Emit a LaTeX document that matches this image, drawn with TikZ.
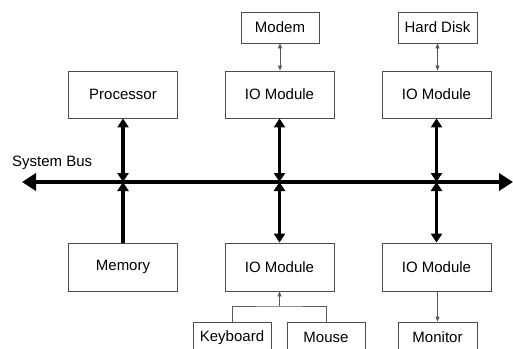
\documentclass[tikz,border=0pt]{standalone}
\usepackage{fontspec}
\setmainfont{Liberation Sans}
\usetikzlibrary{arrows.meta}
\begin{document}
\begin{tikzpicture}[x=1pt,y=-1pt,
  box/.style={draw=black!70,line width=0.8pt,minimum width=109pt,minimum height=47pt,inner sep=0pt,font=\fontsize{15}{18}\selectfont},
  dev/.style={draw=black!70,line width=0.8pt,minimum width=78pt,minimum height=31pt,inner sep=0pt,font=\fontsize{15}{18}\selectfont},
  busarrow/.style={line width=3.2pt,{Triangle[length=9pt,width=11pt]}-{Triangle[length=9pt,width=11pt]}},
  thin/.style={draw=black!65,line width=0.8pt},
  thinarrow/.style={thin,-{Triangle[length=5pt,width=4pt]}}]
\path[use as bounding box] (0,0) rectangle (513,348);
\clip (0,0) rectangle (513,348);
% boxes
\node[box] (proc) at (123,94.5) {Processor};
\node[box] (io1) at (279.5,94.5) {IO Module};
\node[box] (io2) at (436.5,94.5) {IO Module};
\node[dev] (modem) at (280,27.5) {Modem};
\node[dev,minimum width=79pt] (hdd) at (437.5,27.5) {Hard Disk};
\node[box,minimum height=48pt] (mem) at (123,267) {Memory};
\node[box,minimum height=48pt] (io3) at (279.5,267) {IO Module};
\node[box,minimum height=48pt] (io4) at (436.5,267) {IO Module};
\node[dev] (kbd) at (232,337.5) {Keyboard};
\node[dev] (mouse) at (326,337.5) {Mouse};
\node[dev,minimum width=79pt] (mon) at (437.5,337.5) {Monitor};
% bus
\coordinate (busL) at (22,182);
\coordinate (busR) at (513,182);
\draw[line width=4.5pt,{Triangle[length=14pt,width=17pt]}-{Triangle[length=14pt,width=17pt]}] (busL) -- (busR);
\node[font=\fontsize{15}{18}\selectfont,anchor=west,inner sep=0pt] (lbl) at (12,163) {System Bus};
% connections to bus
\draw[busarrow] (proc.south) -- (proc.south |- busL);
\draw[line width=3.2pt,-{Triangle[length=9pt,width=11pt]}] (mem.north) -- (mem.north |- busL);
\draw[busarrow] (io1.south) -- (io1.south |- busL);
\draw[busarrow] (io2.south) -- (io2.south |- busL);
\draw[busarrow] (io3.north) -- (io3.north |- busL);
\draw[busarrow] (io4.north) -- (io4.north |- busL);
% devices
\draw[thin,{Triangle[length=5pt,width=4pt]}-{Triangle[length=5pt,width=4pt]}] (modem.south) -- (io1.north -| modem.south);
\draw[thin,{Triangle[length=5pt,width=4pt]}-{Triangle[length=5pt,width=4pt]}] (hdd.south) -- (io2.north -| hdd.south);
\coordinate (j) at (279.5,306);
\draw[thinarrow] (j) -- (io3.south);
\draw[thin] (kbd.north) |- (j) -| (mouse.north);
\draw[thinarrow] (io4.south -| mon.north) -- (mon.north);
\end{tikzpicture}
\end{document}
